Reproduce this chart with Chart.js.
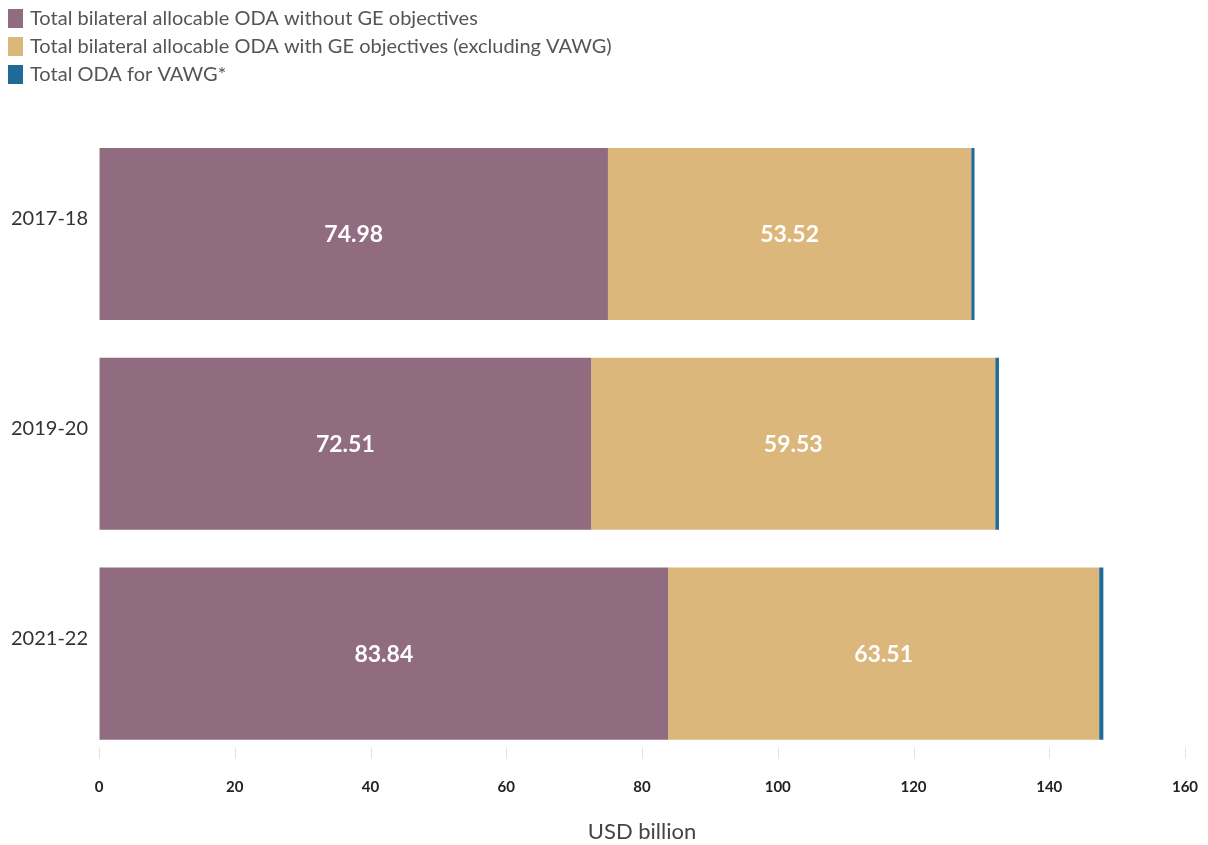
<!DOCTYPE html>
<html>
<head>
<meta charset="utf-8">
<script src="https://cdn.jsdelivr.net/npm/chart.js@4.4.1/dist/chart.umd.min.js"></script>
<style>
  html, body { margin: 0; padding: 0; background: #ffffff; }
  #wrap { width: 1208px; height: 845px; position: relative; }
</style>
</head>
<body>
<div id="wrap"><canvas id="c" width="1208" height="845"></canvas></div>
<script>
// Periods shown on the vertical axis
const periods = ['2017-18', '2019-20', '2021-22'];

// Bilateral allocable ODA, USD billion
const withoutGE = [74.98, 72.51, 83.84];
const withGEexclVAWG = [53.52, 59.53, 63.51];
const vawg = [0.49, 0.55, 0.62];

const seriesNames = [
  'Total bilateral allocable ODA without GE objectives',
  'Total bilateral allocable ODA with GE objectives (excluding VAWG)',
  'Total ODA for VAWG*'
];
const seriesColors = ['#916c80', '#dcb77b', '#1f6a96'];

// X axis tick values
const xTicks = [0, 20, 40, 60, 80, 100, 120, 140, 160];

const FONT = 'Lato, "Open Sans", sans-serif';

// Stacked legend, one entry per line, at the top left
const stackedLegend = {
  id: 'stackedLegend',
  afterDraw(chart) {
    const ctx = chart.ctx;
    ctx.save();
    ctx.font = '20px ' + FONT;
    ctx.textBaseline = 'middle';
    ctx.textAlign = 'left';
    chart.data.datasets.forEach((ds, i) => {
      const y = 18 + i * 28;
      ctx.fillStyle = ds.backgroundColor;
      ctx.fillRect(8, y - 9, 15, 19);
      ctx.fillStyle = '#555555';
      ctx.fillText(ds.label, 30, y + 1);
    });
    ctx.restore();
  }
};

// Short tick marks sitting just above the bottom edge of the plot
const xTickMarks = {
  id: 'xTickMarks',
  afterDraw(chart) {
    const ctx = chart.ctx;
    const sx = chart.scales.x;
    const bottom = chart.chartArea.bottom;
    ctx.save();
    ctx.strokeStyle = '#e3e3e3';
    ctx.lineWidth = 1;
    sx.ticks.forEach(t => {
      const x = Math.round(sx.getPixelForValue(t.value)) + 0.5;
      ctx.beginPath();
      ctx.moveTo(x, bottom - 11);
      ctx.lineTo(x, bottom);
      ctx.stroke();
    });
    ctx.restore();
  }
};

// White value labels centred in the two large segments
const valueLabels = {
  id: 'valueLabels',
  afterDatasetsDraw(chart) {
    const ctx = chart.ctx;
    ctx.save();
    ctx.font = 'bold 23px ' + FONT;
    ctx.fillStyle = '#ffffff';
    ctx.textAlign = 'center';
    ctx.textBaseline = 'middle';
    [0, 1].forEach(di => {
      const meta = chart.getDatasetMeta(di);
      meta.data.forEach((bar, j) => {
        const p = bar.getProps(['x', 'y', 'base'], true);
        const v = chart.data.datasets[di].data[j];
        ctx.fillText(v.toFixed(2), (p.x + p.base) / 2, p.y + 1);
      });
    });
    ctx.restore();
  }
};

new Chart(document.getElementById('c'), {
  type: 'bar',
  data: {
    labels: periods,
    datasets: [
      { label: seriesNames[0], data: withoutGE, backgroundColor: seriesColors[0] },
      { label: seriesNames[1], data: withGEexclVAWG, backgroundColor: seriesColors[1] },
      { label: seriesNames[2], data: vawg, backgroundColor: seriesColors[2] }
    ]
  },
  options: {
    indexAxis: 'y',
    responsive: false,
    animation: false,
    datasets: { bar: { categoryPercentage: 0.82, barPercentage: 1.0, borderWidth: 0 } },
    layout: { padding: { top: 129, left: 0, right: 0, bottom: 0 } },
    plugins: {
      legend: { display: false },
      tooltip: { enabled: false }
    },
    scales: {
      x: {
        stacked: true,
        min: 0,
        max: 160,
        afterBuildTicks(axis) { axis.ticks = xTicks.map(v => ({ value: v })); },
        // keep only room for half of the last label on the right
        afterFit(axis) { axis.paddingRight = 23; },
        border: { display: false },
        grid: { drawOnChartArea: false, drawTicks: false },
        ticks: {
          padding: 20,
          color: '#222222',
          font: { family: FONT, size: 15, weight: 'bold' }
        },
        title: {
          display: true,
          text: 'USD billion',
          color: '#444444',
          font: { family: FONT, size: 22 },
          padding: { top: 2, bottom: 0 }
        }
      },
      y: {
        stacked: true,
        border: { display: false },
        grid: { display: false, drawTicks: false },
        ticks: {
          padding: 11,
          labelOffset: -15,
          color: '#333333',
          font: { family: FONT, size: 20 }
        }
      }
    }
  },
  plugins: [stackedLegend, xTickMarks, valueLabels]
});
</script>
</body>
</html>
